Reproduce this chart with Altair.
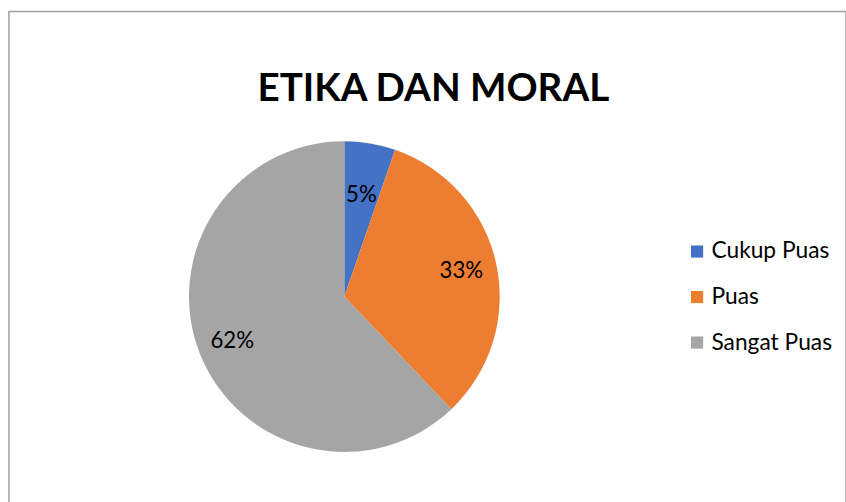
import altair as alt
import pandas as pd

categories = ["Cukup Puas", "Puas", "Sangat Puas"]
values = [5.3, 32.6, 62.1]
labels = ["5%", "33%", "62%"]
colors = ["#4472C4", "#ED7D31", "#A5A5A5"]
label_radii = [104, 121, 122]

df = pd.DataFrame({"kategori": categories, "nilai": values, "label": labels,
                   "urut": list(range(len(categories)))})

FONT = "Lato"
cx, cy = 344 - 5, 297 - 9

base = alt.Chart(df).encode(
    theta=alt.Theta("nilai:Q", stack=True),
    order=alt.Order("urut:Q"),
)

pie = base.mark_arc(outerRadius=157).encode(
    x=alt.value(cx), y=alt.value(cy),
    color=alt.Color("kategori:N",
                    scale=alt.Scale(domain=categories, range=colors),
                    legend=alt.Legend(title=None, orient="none", legendX=684, legendY=231,
                                      symbolType="square", symbolSize=150,
                                      labelFont=FONT, labelFontSize=23, labelColor="#000000",
                                      rowPadding=22, labelOffset=3, symbolStrokeWidth=0)),
)

texts = [
    base.mark_text(radius=r, font=FONT, fontSize=22.5, color="#000000").encode(
        x=alt.value(cx), y=alt.value(cy),
        text=alt.condition(alt.datum.kategori == cat, "label:N", alt.value("")),
    )
    for cat, r in zip(categories, label_radii)
]

chart = alt.layer(pie, *texts).properties(
    width=846, height=502,
    padding={"left": 9, "top": 9, "right": 0, "bottom": 0},
    autosize=alt.AutoSizeParams(type="none"),
    title=alt.TitleParams("ETIKA DAN MORAL", font=FONT, fontSize=39, fontWeight="bold",
                          color="#000000", anchor="middle", dx=6, dy=133, baseline="alphabetic"),
).configure_view(stroke="#A0A0A0", strokeWidth=1.5)

chart.save("out.html", embed_options={"renderer": "svg", "actions": False})
